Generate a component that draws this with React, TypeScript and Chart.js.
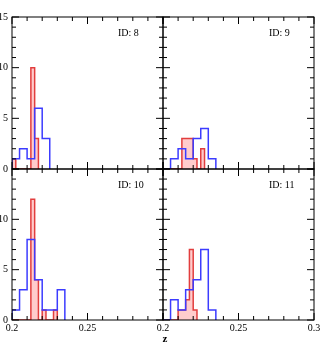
import React, { useEffect, useRef } from 'react';
import { Chart, registerables } from 'chart.js';

Chart.register(...registerables);

// ---- data ----
const panelLabels = ['ID: 8', 'ID: 9', 'ID: 10', 'ID: 11'];
const axisTitle = 'z';

const binStart = 0.2;
const redBinWidth = 0.0025;
const blueBinWidth = 0.005;

const red8 = [1, 0, 0, 0, 0, 10, 3];
const red9 = [0, 0, 0, 0, 0, 3, 3, 3, 1, 0, 2];
const red10 = [0, 0, 0, 0, 0, 12, 4, 0, 1, 0, 0, 1];
const red11 = [0, 0, 0, 0, 1, 1, 2, 7, 1];

const blue8 = [1, 2, 1, 6, 3];
const blue9 = [0, 1, 2, 1, 3, 4, 1];
const blue10 = [1, 3, 8, 4, 1, 1, 3];
const blue11 = [0, 2, 1, 3, 4, 7, 1];

const xTickLabels = [0.2, 0.25, 0.3];
const yTickLabels = [0, 5, 10, 15];
const xMin = 0.2;
const xMax = 0.3;
const yMin = 0;
const yMax = 15;
const xMinorStep = 0.01;
const yMinorStep = 1;

const SERIF = '"Liberation Serif", "Times New Roman", serif';

function stepPoints(counts: number[], start: number, width: number) {
  const pts: { x: number; y: number }[] = [{ x: start, y: 0 }];
  counts.forEach((c, i) => pts.push({ x: start + i * width, y: c }));
  const end = start + counts.length * width;
  pts.push({ x: end, y: counts[counts.length - 1] });
  pts.push({ x: end, y: 0 });
  return pts;
}

const fmt = (v: number) => String(Math.round(v * 1000) / 1000);

const framePlugin = {
  id: 'panelFrame',
  afterDraw(chart: any, _args: any, opts: any) {
    const { ctx, chartArea, scales } = chart;
    const { left, right, top, bottom } = chartArea;
    const xs = scales.x;
    const ys = scales.y;
    ctx.save();
    ctx.strokeStyle = '#000';
    ctx.lineWidth = 1;
    ctx.strokeRect(left, top, right - left, bottom - top);
    ctx.beginPath();
    const nx = Math.round((xMax - xMin) / xMinorStep);
    for (let i = 0; i <= nx; i++) {
      const v = xMin + i * xMinorStep;
      const major = xTickLabels.some((t) => Math.abs(t - v) < 1e-9);
      const len = major ? 7 : 4;
      const px = xs.getPixelForValue(v);
      ctx.moveTo(px, bottom);
      ctx.lineTo(px, bottom - len);
      ctx.moveTo(px, top);
      ctx.lineTo(px, top + len);
    }
    const ny = Math.round((yMax - yMin) / yMinorStep);
    for (let i = 0; i <= ny; i++) {
      const v = yMin + i * yMinorStep;
      const major = yTickLabels.some((t) => Math.abs(t - v) < 1e-9);
      const len = major ? 7 : 4;
      const py = ys.getPixelForValue(v);
      ctx.moveTo(left, py);
      ctx.lineTo(left + len, py);
      ctx.moveTo(right, py);
      ctx.lineTo(right - len, py);
    }
    ctx.stroke();
    ctx.fillStyle = '#000';
    ctx.font = `10px ${SERIF}`;
    ctx.textAlign = 'left';
    ctx.textBaseline = 'middle';
    ctx.fillText(opts.label, left + 106, top + 16);
    if (opts.showTitle) {
      ctx.font = `bold 11px ${SERIF}`;
      ctx.textAlign = 'center';
      ctx.fillText(axisTitle, right + 2, bottom + 19);
    }
    ctx.restore();
  },
};

type Panel = {
  label: string;
  red: number[];
  blue: number[];
  showX: boolean;
  showY: boolean;
  hideLastX: boolean;
  hideTopY: boolean;
  showTitle: boolean;
  padding: { left: number; top: number; right: number; bottom: number };
};

const panels: Panel[] = [
  { label: panelLabels[0], red: red8, blue: blue8, showX: false, showY: true, hideLastX: true, hideTopY: false, showTitle: false, padding: { left: 0, top: 17, right: 170, bottom: 191 } },
  { label: panelLabels[1], red: red9, blue: blue9, showX: false, showY: false, hideLastX: false, hideTopY: false, showTitle: false, padding: { left: 163, top: 17, right: 19, bottom: 191 } },
  { label: panelLabels[2], red: red10, blue: blue10, showX: true, showY: true, hideLastX: true, hideTopY: true, showTitle: true, padding: { left: 0, top: 169, right: 170, bottom: 20 } },
  { label: panelLabels[3], red: red11, blue: blue11, showX: true, showY: false, hideLastX: false, hideTopY: true, showTitle: false, padding: { left: 163, top: 169, right: 19, bottom: 20 } },
];

function PanelChart({ panel }: { panel: Panel }) {
  const ref = useRef<HTMLCanvasElement | null>(null);
  useEffect(() => {
    if (!ref.current) return;
    const xLabels = panel.hideLastX ? xTickLabels.slice(0, -1) : xTickLabels;
    const yLabels = panel.hideTopY ? yTickLabels.slice(0, -1) : yTickLabels;
    const chart = new Chart(ref.current, {
      type: 'line',
      data: {
        datasets: [
          {
            data: stepPoints(panel.blue, binStart, blueBinWidth),
            borderColor: '#3c3cff',
            borderWidth: 1.5,
            stepped: true,
            fill: false,
            pointRadius: 0,
          },
          {
            data: stepPoints(panel.red, binStart, redBinWidth),
            borderColor: '#e23e3e',
            backgroundColor: 'rgba(255,0,0,0.2)',
            borderWidth: 1.5,
            stepped: true,
            fill: 'origin',
            pointRadius: 0,
          },
        ],
      } as any,
      options: {
        animation: false,
        responsive: false,
        events: [],
        layout: { padding: panel.padding, autoPadding: false } as any,
        plugins: {
          legend: { display: false },
          tooltip: { enabled: false },
          panelFrame: { label: panel.label, showTitle: panel.showTitle },
        } as any,
        scales: {
          x: {
            type: 'linear',
            min: xMin,
            max: xMax,
            display: panel.showX,
            grid: { display: false, drawTicks: false },
            border: { display: false },
            ticks: {
              padding: 2,
              color: '#000',
              maxRotation: 0,
              autoSkip: false,
              font: { family: SERIF, size: 10 },
              callback: (v: any) => fmt(Number(v)),
            },
            afterBuildTicks: (s: any) => {
              s.ticks = xLabels.map((v) => ({ value: v }));
            },
            afterFit: (s: any) => {
              s.height = panel.showX ? 20 : 0;
              s.paddingLeft = 0;
              s.paddingRight = 0;
            },
          },
          y: {
            type: 'linear',
            min: yMin,
            max: yMax,
            display: panel.showY,
            grid: { display: false, drawTicks: false },
            border: { display: false },
            ticks: {
              padding: 4,
              color: '#000',
              autoSkip: false,
              font: { family: SERIF, size: 10 },
              callback: (v: any) => fmt(Number(v)),
            },
            afterBuildTicks: (s: any) => {
              s.ticks = yLabels.map((v) => ({ value: v }));
            },
            afterFit: (s: any) => {
              s.width = panel.showY ? 12 : 0;
              s.paddingTop = 0;
              s.paddingBottom = 0;
            },
          },
        },
      } as any,
      plugins: [framePlugin],
    });
    return () => chart.destroy();
  }, [panel]);
  return (
    <canvas
      ref={ref}
      width={333}
      height={360}
      style={{ position: 'absolute', left: 0, top: 0, width: 333, height: 360 }}
    />
  );
}

export default function App() {
  return (
    <div style={{ position: 'fixed', left: 0, top: 0, width: 333, height: 360, background: '#fff' }}>
      {panels.map((p) => (
        <PanelChart key={p.label} panel={p} />
      ))}
    </div>
  );
}
